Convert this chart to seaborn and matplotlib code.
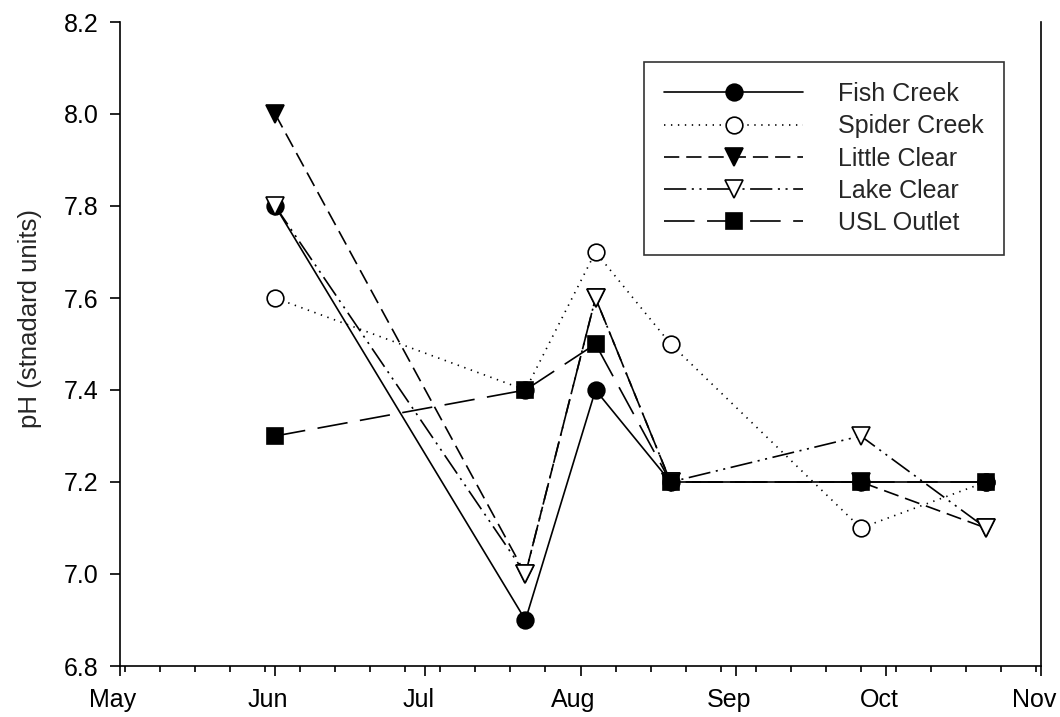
import datetime
import matplotlib
matplotlib.use("Agg")
import matplotlib.pyplot as plt
import matplotlib.dates as mdates
import matplotlib.transforms as mtransforms
import pandas as pd
import seaborn as sns

# ---- data ----
YEAR = 2004
dates = ["2004-06-01", "2004-07-21", "2004-08-04", "2004-08-19", "2004-09-26", "2004-10-21"]
fish_creek = [7.8, 6.9, 7.4, 7.2, 7.2, 7.2]
spider_creek = [7.6, 7.4, 7.7, 7.5, 7.1, 7.2]
little_clear = [8.0, 7.0, 7.6, 7.2, 7.2, 7.1]
lake_clear = [7.8, 7.0, 7.6, 7.2, 7.3, 7.1]
usl_outlet = [7.3, 7.4, 7.5, 7.2, 7.2, 7.2]
series_names = ["Fish Creek", "Spider Creek", "Little Clear", "Lake Clear", "USL Outlet"]
y_label = "pH (stnadard units)"
y_ticks = [6.8, 7.0, 7.2, 7.4, 7.6, 7.8, 8.0, 8.2]

sns.set_style("white")
plt.rcParams["font.family"] = ["Liberation Sans", "DejaVu Sans"]
plt.rcParams["lines.scale_dashes"] = False

x = pd.to_datetime(dates)
values = [fish_creek, spider_creek, little_clear, lake_clear, usl_outlet]

styles = [
    dict(marker="o", ms=12, mfc="black", linestyle="-"),
    dict(marker="o", ms=12, mfc="white", linestyle=(0, (1, 4))),
    dict(marker="v", ms=12.5, mfc="black", linestyle=(0, (11, 5))),
    dict(marker="v", ms=12.5, mfc="white", linestyle=(0, (16, 4, 1.5, 4, 1.5, 4))),
    dict(marker="s", ms=11.5, mfc="black", linestyle=(0, (22, 9))),
]

W, H = 1060, 717
fig = plt.figure(figsize=(W / 100, H / 100), dpi=100)
ax = fig.add_axes([120 / W, 1 - 666 / H, (1041 - 120) / W, (666 - 22) / H])

for name, vals, st in zip(series_names, values, styles):
    sns.lineplot(x=x, y=vals, ax=ax, color="black", lw=1.2, mec="black", mew=1.2,
                 label=name, sort=False, **st)

ax.set_xlim(pd.Timestamp(f"{YEAR}-05-01"), pd.Timestamp(f"{YEAR}-11-01"))
ax.set_ylim(6.8, 8.2)
ax.set_yticks(y_ticks)
ax.set_yticklabels([f"{v:.1f}" for v in y_ticks])
ax.xaxis.set_major_locator(mdates.MonthLocator())
ax.xaxis.set_major_formatter(mdates.DateFormatter("%b"))
wd = datetime.date(YEAR, 5, 2).weekday()
ax.xaxis.set_minor_locator(mdates.WeekdayLocator(byweekday=wd))

ax.set_xlabel("")
ax.set_ylabel(y_label, fontsize=18.5)
ax.yaxis.set_label_coords(-0.0847, 0.54)

for side in ["left", "bottom", "right"]:
    ax.spines[side].set_visible(True)
    ax.spines[side].set_color("black")
    ax.spines[side].set_linewidth(1.2)
ax.spines["top"].set_visible(False)

ax.tick_params(axis="both", which="major", direction="out", length=7.5, width=1.2,
               labelsize=18, colors="black", pad=8)
ax.tick_params(axis="x", which="minor", direction="out", length=4.5, width=1.2, colors="black")
ax.tick_params(axis="y", which="both", left=True, right=False)
ax.tick_params(axis="x", which="both", bottom=True, top=False)

# month labels sit slightly left of their ticks in the reference
shift = mtransforms.ScaledTranslation(-7 / 100, 0, fig.dpi_scale_trans)
for lbl in ax.get_xticklabels():
    lbl.set_transform(lbl.get_transform() + shift)

leg = ax.legend(loc="upper right", bbox_to_anchor=(1004 / W, 1 - 62 / H),
                bbox_transform=fig.transFigure, borderaxespad=0, fontsize=18,
                frameon=True, fancybox=False, edgecolor="black", handlelength=5.56,
                handletextpad=1.4, labelspacing=0.33, borderpad=0.8, numpoints=1)
leg.get_frame().set_linewidth(1.2)

fig.savefig("out.png", dpi=100, facecolor="white")
